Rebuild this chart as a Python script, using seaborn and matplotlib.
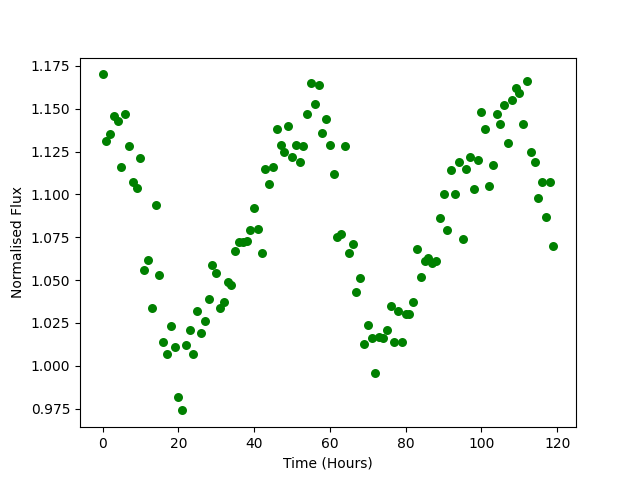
import matplotlib
matplotlib.use("Agg")
import matplotlib.pyplot as plt
import seaborn as sbs
import numpy as np

# time in hours (one reading per hour)
hours = list(range(120))

# normalised flux
flux = [
    1.170, 1.131, 1.135, 1.146, 1.143, 1.116, 1.147, 1.128, 1.107, 1.104,
    1.121, 1.056, 1.062, 1.034, 1.094, 1.053, 1.014, 1.007, 1.023, 1.011,
    0.982, 0.974, 1.012, 1.021, 1.007, 1.032, 1.019, 1.026, 1.039, 1.059,
    1.054, 1.034, 1.037, 1.049, 1.047, 1.067, 1.072, 1.072, 1.073, 1.079,
    1.092, 1.080, 1.066, 1.115, 1.106, 1.116, 1.138, 1.129, 1.125, 1.140,
    1.122, 1.129, 1.119, 1.128, 1.147, 1.165, 1.153, 1.164, 1.136, 1.144,
    1.129, 1.112, 1.075, 1.077, 1.128, 1.066, 1.071, 1.043, 1.051, 1.013,
    1.024, 1.016, 0.996, 1.017, 1.016, 1.021, 1.035, 1.014, 1.032, 1.014,
    1.030, 1.030, 1.037, 1.068, 1.052, 1.061, 1.063, 1.060, 1.061, 1.086,
    1.100, 1.079, 1.114, 1.100, 1.119, 1.074, 1.115, 1.122, 1.103, 1.120,
    1.148, 1.138, 1.105, 1.117, 1.147, 1.141, 1.152, 1.130, 1.155, 1.162,
    1.159, 1.141, 1.166, 1.125, 1.119, 1.098, 1.107, 1.087, 1.107, 1.070,
]

plt.figure(figsize=(6.4, 4.8), dpi=100)
ax = sbs.scatterplot(x=hours, y=flux, color='green', s=42, linewidth=0)
ax.set_xlabel('Time (Hours)')
ax.set_ylabel('Normalised Flux')
ax.set_xticks([0, 20, 40, 60, 80, 100, 120])
plt.savefig('out.png', dpi=100)
